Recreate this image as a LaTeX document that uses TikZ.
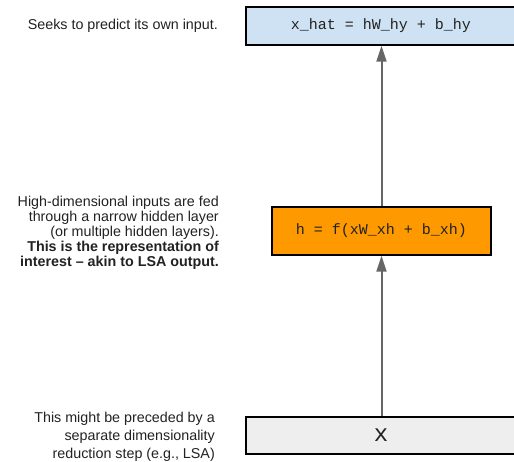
\documentclass[tikz,border=0pt]{standalone}
\usepackage{fontspec}
\setmainfont{Liberation Sans}
\newfontfamily\codefont{Liberation Mono}
\usetikzlibrary{arrows.meta}
\definecolor{boxblue}{HTML}{CFE2F3}
\definecolor{boxorange}{HTML}{FF9900}
\definecolor{boxgray}{HTML}{EEEEEE}
\definecolor{arrowgray}{HTML}{666666}
\definecolor{txt}{HTML}{222222}
\begin{document}
\begin{tikzpicture}[x=1pt,y=-1pt,
  layerbox/.style={draw=black, line width=1.3pt, minimum height=38pt, inner sep=0pt, font=\codefont\fontsize{15}{17}\selectfont, text=txt},
  note/.style={anchor=east, align=right, inner sep=0pt, text=txt},
  link/.style={draw=arrowgray, line width=2pt, -{Triangle[length=16pt,width=10pt]}}]
\useasboundingbox (0,0) rectangle (514,462);
\fill[white] (0,0) rectangle (514,462);
% boxes (top and bottom run past the right edge of the picture)
\node[layerbox, fill=boxblue, minimum width=280pt] (out) at (386,26) {\hbox to 270pt{\hss x\_hat = hW\_hy + b\_hy\hss\hspace{10pt}}};
\node[layerbox, fill=boxorange, minimum width=219pt, minimum height=48pt] (hid) at (381.5,231) {h = f(xW\_xh + b\_xh)};
\node[layerbox, fill=boxgray, minimum width=280pt, minimum height=37pt, font=\codefont\fontsize{24}{26}\selectfont] (inp) at (386,435.5) {\hbox to 270pt{\hss x\hss\hspace{10pt}}};
% arrows
\draw[link] (inp.north -| hid.south) -- (hid.south);
\draw[link] (hid.north) -- (out.south -| hid.north);
% notes
\node[note, font=\fontsize{14.3}{15}\selectfont] (n1) at (218,26) {Seeks to predict its own input.};
\node[note, font=\fontsize{14.3}{15}\selectfont] (n2) at (219,233) {High-dimensional inputs are fed\\through a narrow hidden layer\\(or multiple hidden layers).\\\textbf{This is the representation of}\\\textbf{interest -- akin to LSA output.}};
\node[note, font=\fontsize{14.3}{18}\selectfont] (n3) at (215,437) {This might be preceded by a\\separate dimensionality\\reduction step (e.g., LSA)};
\end{tikzpicture}
\end{document}
